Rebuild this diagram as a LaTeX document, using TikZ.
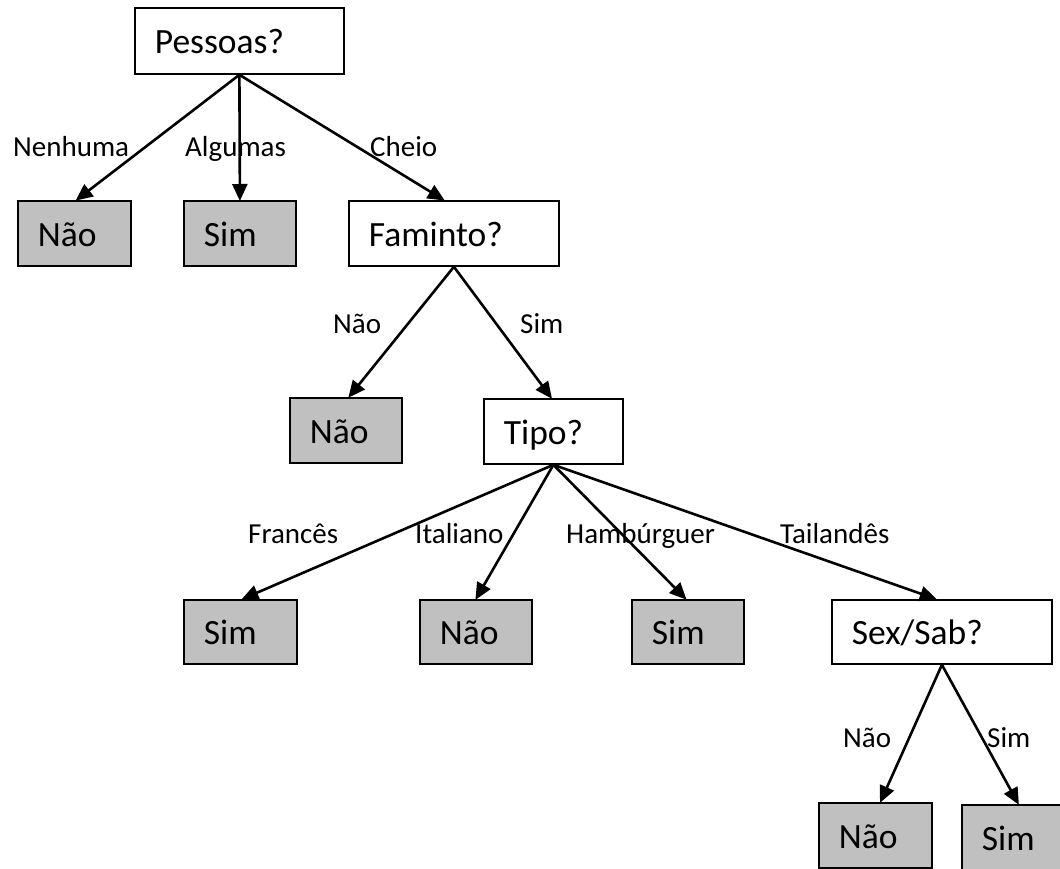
\documentclass[tikz,border=0pt]{standalone}
\usepackage{fontspec}
\setmainfont{Carlito}
\usetikzlibrary{arrows.meta}
\definecolor{leafgray}{RGB}{192,192,192}
\tikzset{
  box/.style={draw=black, line width=1.8pt, inner xsep=20pt, inner ysep=0pt,
    anchor=north west, align=left, font=\fontsize{35.5}{42}\selectfont,
    text height=26pt, text depth=0pt},
  leaf/.style={box, fill=leafgray},
  lbl/.style={anchor=base west, inner sep=0pt, font=\fontsize{29}{34}\selectfont},
  arr/.style={line width=2.6pt, -{Triangle[length=17pt,width=15pt]}, shorten >=-1pt}
}
\begin{document}
\begin{tikzpicture}[x=1pt,y=-1pt]
\useasboundingbox (0,0) rectangle (1060,869);
\clip (0,0) rectangle (1060,869);
% boxes
\node[box, minimum height=66pt, text width=169pt] (p) at (134,7) {Pessoas?};
\node[leaf, minimum height=65pt, text width=73pt] (n1) at (17,200) {Não};
\node[leaf, minimum height=65pt, text width=72pt] (s1) at (183,200) {Sim};
\node[box, minimum height=65pt, text width=170pt] (f) at (348,200) {Faminto?};
\node[leaf, minimum height=65pt, text width=72pt] (n2) at (289,397) {Não};
\node[box, minimum height=65pt, text width=99pt] (t) at (483,398) {Tipo?};
\node[leaf, minimum height=64pt, text width=73pt] (s3) at (183,599) {Sim};
\node[leaf, minimum height=64pt, text width=72pt] (n3) at (419,599) {Não};
\node[leaf, minimum height=64pt, text width=72pt] (s4) at (631,599) {Sim};
\node[box, minimum height=64pt, text width=180pt] (x) at (831,599) {Sex/Sab?};
\node[leaf, minimum height=65pt, text width=73pt] (n4) at (818,802) {Não};
\node[leaf, minimum height=66pt, text width=73pt] (s5) at (961,804) {Sim};
% labels
\node[lbl] (l1) at (13,157) {Nenhuma};
\node[lbl] (l2) at (185,157) {Algumas};
\node[lbl] (l3) at (370,157) {Cheio};
\node[lbl] (l4) at (333,333) {Não};
\node[lbl] (l5) at (520,333) {Sim};
\node[lbl] (l6) at (248,543) {Francês};
\node[lbl] (l7) at (415,543) {Italiano};
\node[lbl] (l8) at (566,543) {Hambúrguer};
\node[lbl] (l9) at (780,543) {Tailandês};
\node[lbl] (l10) at (843,747) {Não};
\node[lbl] (l11) at (987,747) {Sim};
% arrows
\draw[arr] (p.south) -- ([xshift=2pt]n1.north);
\draw[arr] (p.south) -- (s1.north);
\draw[arr] (p.south) -- ([xshift=-10pt]f.north);
\draw[arr] (f.south) -- ([xshift=3pt]n2.north);
\draw[arr] (f.south) -- ([xshift=-2pt]t.north);
\draw[arr] (t.south) -- ([xshift=2pt]s3.north);
\draw[arr] (t.south) -- (n3.north);
\draw[arr] (t.south) -- ([xshift=-2pt]s4.north);
\draw[arr] (t.south) -- ([xshift=-6pt]x.north);
\draw[arr] (x.south) -- ([xshift=5pt]n4.north);
\draw[arr] (x.south) -- (s5.north);
\end{tikzpicture}
\end{document}
